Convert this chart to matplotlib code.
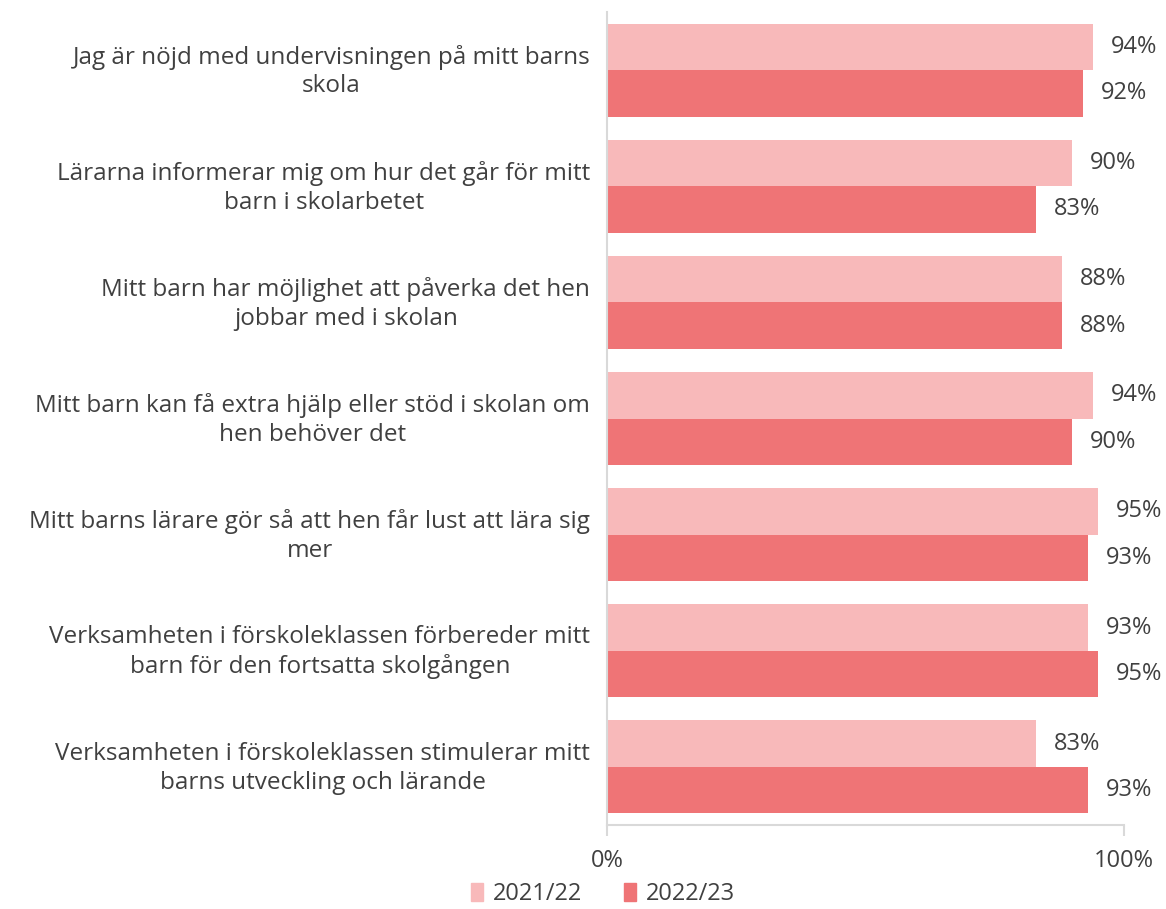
import matplotlib.pyplot as plt
import matplotlib.transforms as mtransforms
from matplotlib.patches import Patch
import numpy as np

# data
fragor = [
    "Jag är nöjd med undervisningen på mitt barns\nskola",
    "Lärarna informerar mig om hur det går för mitt\nbarn i skolarbetet",
    "Mitt barn har möjlighet att påverka det hen\njobbar med i skolan",
    "Mitt barn kan få extra hjälp eller stöd i skolan om\nhen behöver det",
    "Mitt barns lärare gör så att hen får lust att lära sig\nmer",
    "Verksamheten i förskoleklassen förbereder mitt\nbarn för den fortsatta skolgången",
    "Verksamheten i förskoleklassen stimulerar mitt\nbarns utveckling och lärande",
]
ar_2122 = [94, 90, 88, 94, 95, 93, 83]
ar_2223 = [92, 83, 88, 90, 93, 95, 93]
serier = ["2021/22", "2022/23"]
farger = ["#F8B9BA", "#EF7476"]

textfarg = "#404040"
plt.rcParams['font.family'] = ['Open Sans', 'DejaVu Sans']

fig = plt.figure(figsize=(11.66, 9.09), dpi=100)
ax = fig.add_axes([0.5206, 0.0924, 0.4434, 0.8944])

y = np.arange(len(fragor))
h = 0.4
b1 = ax.barh(y - h / 2, ar_2122, height=h, color=farger[0])
b2 = ax.barh(y + h / 2, ar_2223, height=h, color=farger[1])

for bars, vals in [(b1, ar_2122), (b2, ar_2223)]:
    for bar, v in zip(bars, vals):
        ax.annotate(f"{v}%", (bar.get_width(), bar.get_y() + bar.get_height() / 2),
                    xytext=(18, 0), textcoords='offset pixels',
                    ha='left', va='center', fontsize=17, color=textfarg)

ax.set_ylim(len(fragor) - 0.5, -0.5)
ax.set_xlim(0, 100)
ax.set_yticks(y)
ax.set_yticklabels(fragor, fontsize=17.5, color=textfarg, ha='right',
                   multialignment='center', linespacing=1.27)
ax.tick_params(axis='y', length=0, pad=12)
# lyft etiketterna nagra pixlar
upp = mtransforms.ScaledTranslation(0, 4 / 100, fig.dpi_scale_trans)
for lbl in ax.get_yticklabels():
    lbl.set_transform(lbl.get_transform() + upp)
ax.set_xticks([0, 100])
ax.set_xticklabels(["0%", "100%"], fontsize=17, color=textfarg)
ax.tick_params(axis='x', length=8, width=1.5, color='#d9d9d9', pad=9)

for s in ['top', 'right']:
    ax.spines[s].set_visible(False)
for s in ['left', 'bottom']:
    ax.spines[s].set_color('#d9d9d9')
    ax.spines[s].set_linewidth(1.5)

handles = [Patch(color=c, label=l) for c, l in zip(farger, serier)]
fig.legend(handles=handles, loc='lower center', bbox_to_anchor=(0.517, -0.02),
           ncol=2, frameon=False, fontsize=17, handlelength=0.5, handleheight=0.8,
           columnspacing=1.8, handletextpad=0.4, labelcolor=textfarg)

fig.savefig("out.png", dpi=100)
